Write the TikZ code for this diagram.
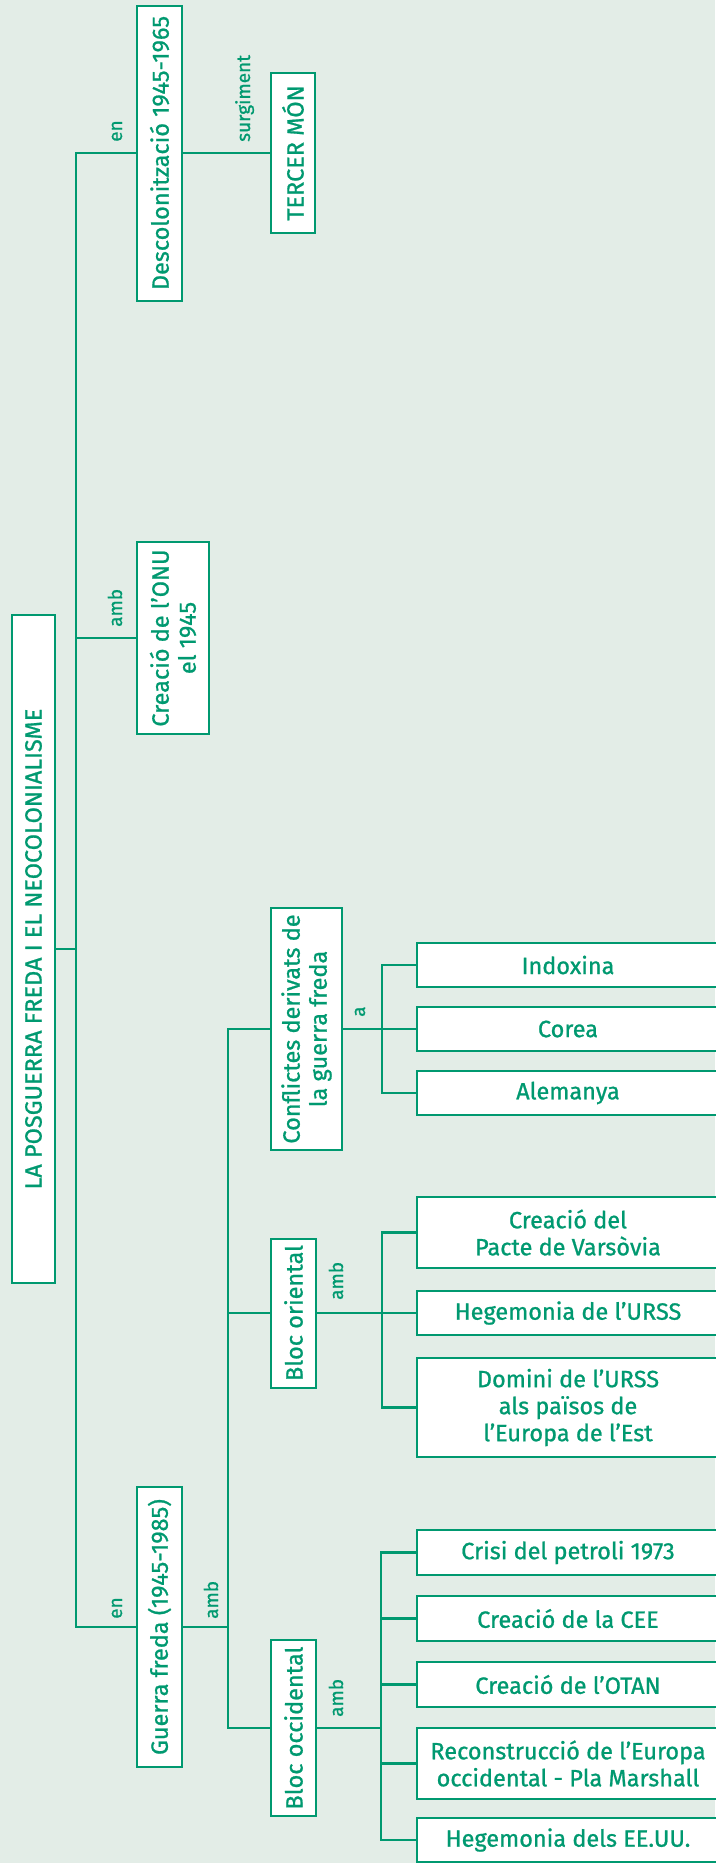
\documentclass[tikz,border=0pt]{standalone}
\usepackage{fontspec}
\setmainfont{Fira Sans}[FakeBold=0.9]
\usepackage{xcolor}
\definecolor{verd}{RGB}{0,153,112}
\definecolor{fons}{RGB}{227,237,231}

\begin{document}
\begin{tikzpicture}[x=1pt, y=-1pt,
    box/.style={draw=verd, fill=white, line width=2pt, text=verd, align=center, inner sep=0pt,
      font=\fontsize{23.5}{27}\selectfont},
    vbox/.style={box, rotate=90},
    lbl/.style={text=verd, inner sep=0pt, rotate=90, anchor=base west, font=\fontsize{19}{22}\selectfont},
    conn/.style={draw=verd, line width=2.6pt}]
            \fill[fons] (0,0) rectangle (715,1863);
            \useasboundingbox (0,0) rectangle (715,1863);
            % columns of the tree
            \coordinate (trunk) at (76,0);
            \coordinate (sub) at (228,0);
            \coordinate (confsub) at (382,0);
            \coordinate (orsub) at (382,0);
            \coordinate (occsub) at (381,0);
            % boxes
            \node[vbox, minimum width=668pt, minimum height=43pt] (title) at (33.5,949) {LA POSGUERRA FREDA I EL NEOCOLONIALISME};
            \node[vbox, minimum width=295pt, minimum height=45pt] (descol) at (159.5,153) {Descolonització 1945-1965};
            \node[vbox, minimum width=160pt, minimum height=44pt] (tercer) at (293,153) {TERCER MÓN};
            \node[vbox, minimum width=192pt, minimum height=72pt] (onu) at (173,638) {Creació de l’ONU\\el 1945};
            \node[vbox, minimum width=280pt, minimum height=45pt] (guerra) at (159.5,1627) {Guerra freda (1945-1985)};
            \node[vbox, minimum width=242pt, minimum height=71pt] (confl) at (306.5,1029) {Conflictes derivats de\\la guerra freda};
            \node[vbox, minimum width=149pt, minimum height=45pt] (orient) at (293.5,1313) {Bloc oriental};
            \node[vbox, minimum width=176pt, minimum height=45pt] (occid) at (293.5,1728) {Bloc occidental};
            \node[box, minimum width=302pt, minimum height=44pt] (indox) at (568,965) {Indoxina};
            \node[box, minimum width=302pt, minimum height=44pt] (corea) at (568,1029) {Corea};
            \node[box, minimum width=302pt, minimum height=44pt] (alem) at (568,1093) {Alemanya};
            \node[box, minimum width=302pt, minimum height=71pt] (pacte) at (568,1232.5) {Creació del\\Pacte de Varsòvia};
            \node[box, minimum width=302pt, minimum height=44pt] (hegurss) at (568,1313) {Hegemonia de l’URSS};
            \node[box, minimum width=302pt, minimum height=99pt] (domini) at (568,1407.5) {Domini de l’URSS\\als països de\\l’Europa de l’Est};
            \node[box, minimum width=302pt, minimum height=45pt] (crisi) at (568,1552.5) {Crisi del petroli 1973};
            \node[box, minimum width=302pt, minimum height=45pt] (cee) at (568,1618.5) {Creació de la CEE};
            \node[box, minimum width=302pt, minimum height=45pt] (otan) at (568,1684.5) {Creació de l’OTAN};
            \node[box, minimum width=302pt, minimum height=71pt] (recons) at (568,1763.5) {Reconstrucció de l’Europa\\occidental - Pla Marshall};
            \node[box, minimum width=302pt, minimum height=44pt] (heguu) at (568,1840) {Hegemonia dels EE.UU.};
            % connectors
            \draw[conn] (descol.north) -- (descol.north -| trunk) -- (guerra.north -| trunk) -- (guerra.north);
            \draw[conn] (onu.north) -- (onu.north -| trunk);
            \draw[conn] (title.south) -- (title.south -| trunk);
            \draw[conn] (descol.south) -- (descol.south -| tercer.north);
            \draw[conn] (guerra.south) -- (guerra.south -| sub);
            \draw[conn] (confl.north) -- (confl.north -| sub) -- (occid.north -| sub) -- (occid.north);
            \draw[conn] (orient.north) -- (orient.north -| sub);
            \draw[conn] (confl.south) -- (corea.west);
            \draw[conn] (indox.west) -- (indox.west -| confsub) -- (alem.west -| confsub) -- (alem.west);
            \draw[conn] (orient.south) -- (hegurss.west);
            \draw[conn] (pacte.west) -- (pacte.west -| orsub) -- (domini.west -| orsub) -- (domini.west);
            \draw[conn] (occid.south) -- (occid.south -| occsub);
            \draw[conn] (crisi.west) -- (crisi.west -| occsub) -- (heguu.west -| occsub) -- (heguu.west);
            \draw[conn] (cee.west) -- (cee.west -| occsub);
            \draw[conn] (otan.west) -- (otan.west -| occsub);
            \draw[conn] (recons.west) -- (recons.west -| occsub);
            % labels
            \node[lbl] (l1) at (122,142) {en};
            \node[lbl] (l2) at (250,142) {surgiment};
            \node[lbl] (l3) at (122,627) {amb};
            \node[lbl] (l4) at (122,1619) {en};
            \node[lbl] (l5) at (218,1619) {amb};
            \node[lbl] (l6) at (365,1017) {a};
            \node[lbl] (l7) at (343,1300) {amb};
            \node[lbl] (l8) at (343,1717) {amb};
        \end{tikzpicture}
\end{document}
